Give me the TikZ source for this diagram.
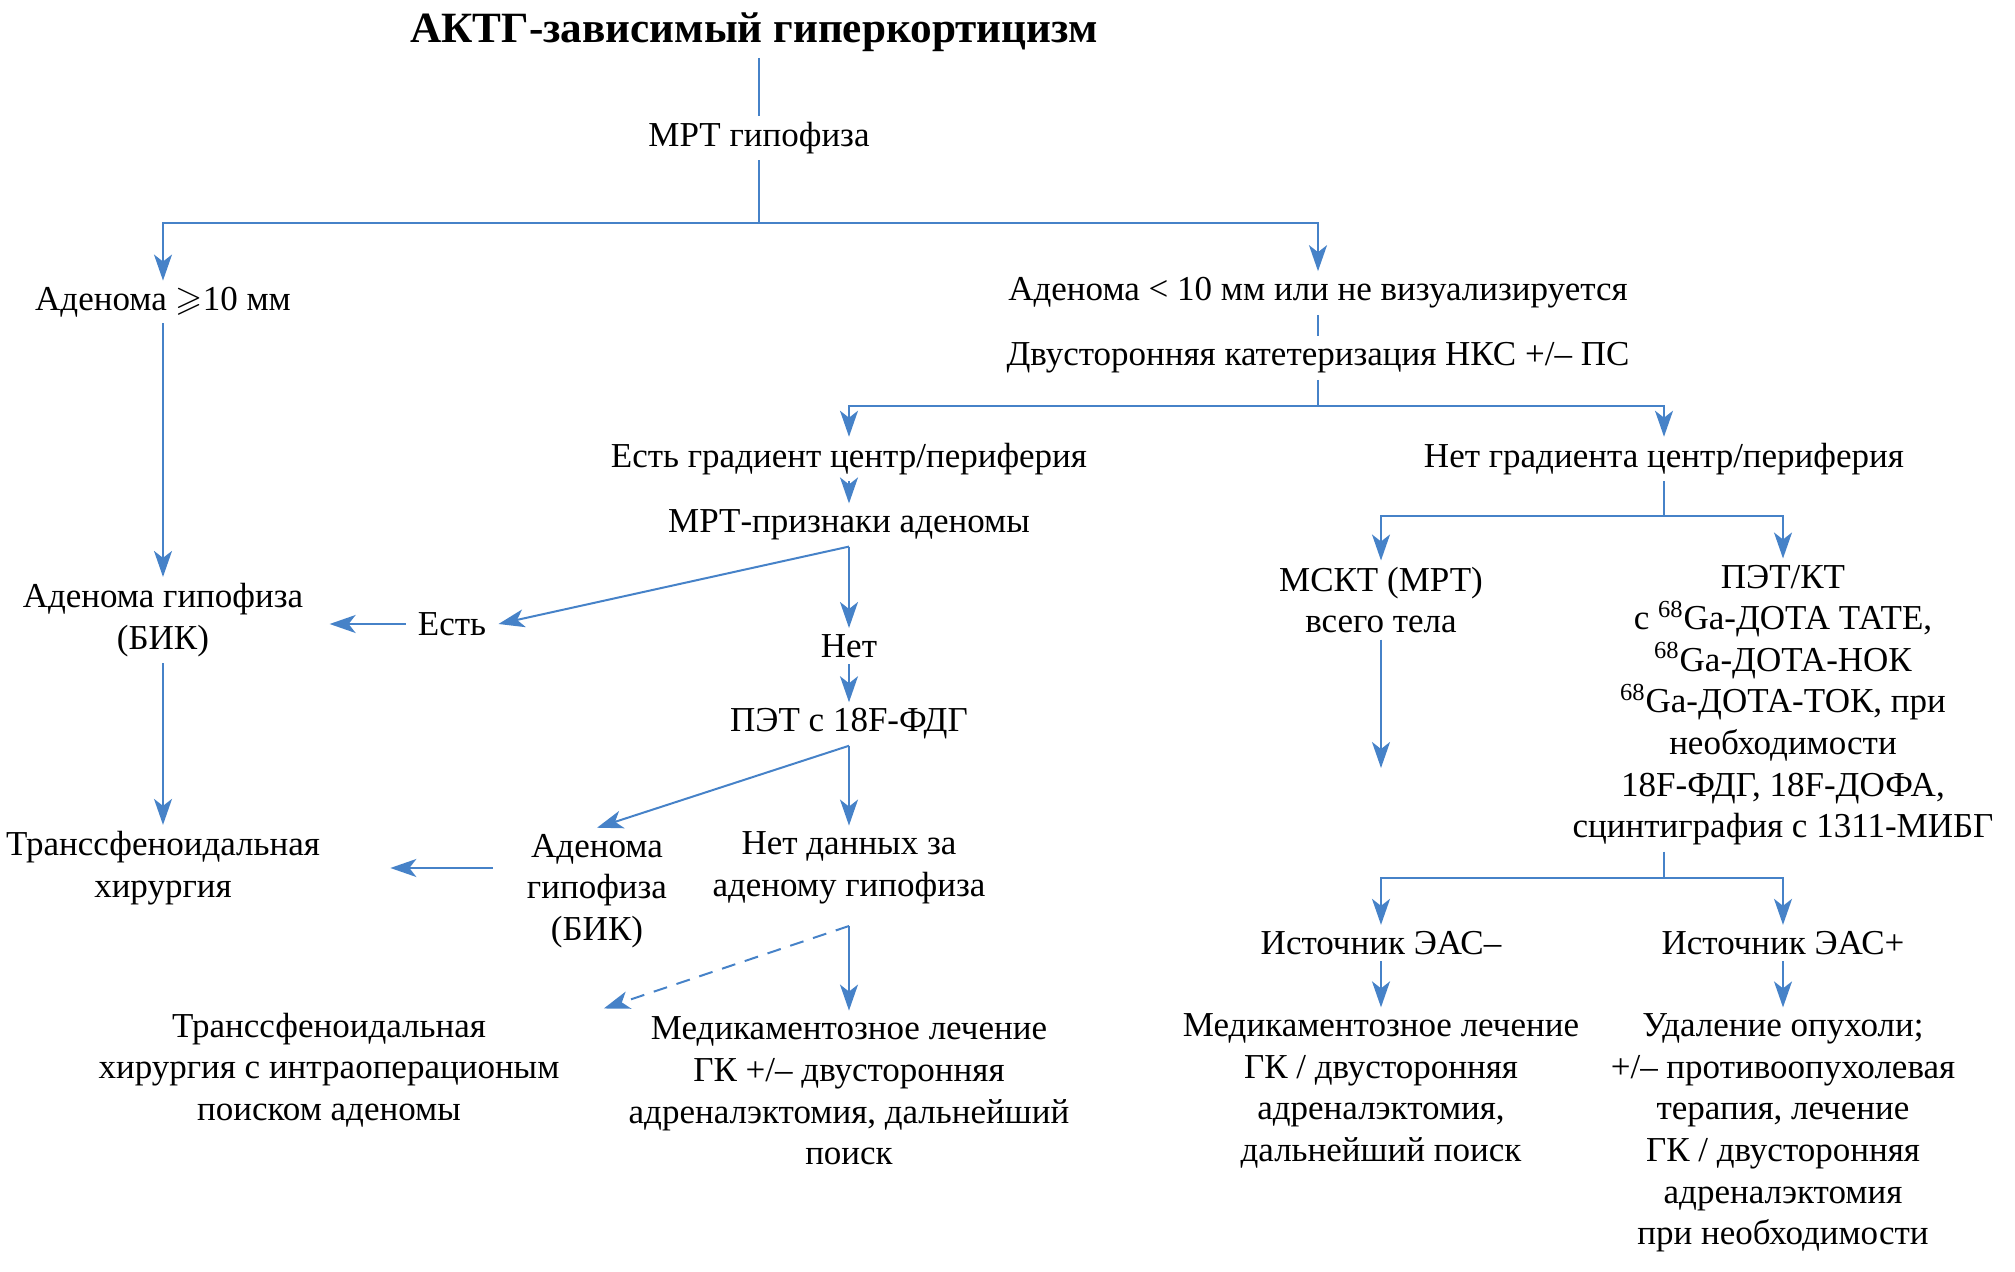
\documentclass[tikz,border=0pt]{standalone}
\usepackage{fontspec}
\setmainfont{Liberation Serif}
\usepackage{amssymb}
\usetikzlibrary{arrows.meta}
\definecolor{flowblue}{RGB}{70,130,200}

\tikzset{
  txt/.style={align=center, inner xsep=6pt, inner ysep=3pt, font=\fontsize{17.5}{20.8}\selectfont},
  headline/.style={inner sep=3pt, font=\fontsize{21.6}{26}\selectfont\bfseries},
  ln/.style={draw=flowblue, line width=1pt},
  arr/.style={ln, -{Stealth[length=13pt,width=9pt,inset=3.5pt]}},
}

\begin{document}
\begin{tikzpicture}[x=0.5pt, y=-0.5pt]
\useasboundingbox (0,0) rectangle (2015,1272);

\node[headline] (head) at (754,32) {АКТГ-зависимый гиперкортицизм};
\node[txt] (mri) at (759,138) {МРТ гипофиза};
\node[txt] (big) at (163,302) {Аденома $\geqslant$10 мм};
\node[txt] (small) at (1318,293) {Аденома < 10 мм или не визуализируется};
\node[txt] (cath) at (1318,358) {Двусторонняя катетеризация НКС +/– ПС};

% left and middle branches
\node[txt] (grad) at (849,459) {Есть градиент центр/периферия};
\node[txt] (sign) at (849,525) {МРТ-признаки аденомы};
\node[txt] (yes) at (452,624) {Есть};
\node[txt] (no) at (849,646) {Нет};
\node[txt] (pet) at (849,724) {ПЭТ с 18F-ФДГ};
\node[txt] (adenB) at (163,620) {Аденома гипофиза\\(БИК)};
\node[txt] (trans) at (163,868) {Транссфеноидальная\\хирургия};
\node[txt] (adenC) at (597,891) {Аденома\\гипофиза\\(БИК)};
\node[txt] (nodata) at (849,868) {Нет данных за\\аденому гипофиза};
\node[txt] (trans2) at (329,1070) {Транссфеноидальная\\хирургия с интраоперационым\\поиском аденомы};
\node[txt] (med1) at (849,1091) {Медикаментозное лечение\\ГК +/– двусторонняя\\адреналэктомия, дальнейший\\поиск};

% right branch
\node[txt] (nograd) at (1664,459) {Нет градиента центр/периферия};
\node[txt] (msct) at (1381,600) {МСКТ (МРТ)\\всего тела};
\node[txt] (petct) at (1783,705) {ПЭТ/КТ\\с \textsuperscript{68}Ga-ДОТА ТАТЕ,\\\textsuperscript{68}Ga-ДОТА-НОК\\\textsuperscript{68}Ga-ДОТА-ТОК, при\\необходимости\\18F-ФДГ, 18F-ДОФА,\\сцинтиграфия с 1311-МИБГ};
\node[txt] (easm) at (1381,943) {Источник ЭАС–};
\node[txt] (easp) at (1783,943) {Источник ЭАС+};
\node[txt] (med2) at (1381,1091) {Медикаментозное лечение\\ГК / двусторонняя\\адреналэктомия,\\дальнейший поиск};
\node[txt] (rem) at (1783,1133) {Удаление опухоли;\\+/– противоопухолевая\\терапия, лечение\\ГК / двусторонняя\\адреналэктомия\\при необходимости};

\coordinate (j1) at (759,223);
\coordinate (j2) at (1318,406);
\coordinate (j3) at (849,926);
\coordinate (j4) at (1664,516);
\coordinate (j5) at (1664,878);
\coordinate (mend) at (1381,768);

\draw[ln] (head.south -| mri) -- (mri);
\draw[ln] (mri) -- (j1);
\draw[arr] (j1) -| (big);
\draw[arr] (j1) -| (small);
\draw[ln] (small) -- (cath);
\draw[ln] (cath) -- (j2);
\draw[arr] (j2) -| (grad);
\draw[arr] (j2) -| (nograd);

\draw[arr] (grad) -- (sign);
\draw[arr] (sign.south) -- (yes.east);
\draw[arr] (sign) -- (no);
\draw[arr, shorten >=7pt] (yes.west) -- (yes.west -| adenB.east);
\draw[arr] (big) -- (adenB);
\draw[arr] (adenB) -- (trans);
\draw[arr] (no) -- (pet);
\draw[arr] (pet.south) -- (adenC.north);
\draw[arr] (pet) -- (nodata);
\draw[arr, shorten <=11pt, shorten >=29pt] (adenC.west |- trans) -- (trans);
\draw[arr, dash pattern=on 7pt off 5pt] (j3) -- ([xshift=16pt, yshift=-1pt]trans2.north east);
\draw[arr] (j3) -- (med1);

\draw[ln] (nograd) -- (j4);
\draw[arr] (j4) -| (msct);
\draw[arr] (j4) -| (petct);
\draw[arr] (msct) -- (mend);
\draw[ln] (petct.south -| j5) -- (j5);
\draw[arr] (j5) -| (easm);
\draw[arr] (j5) -| (easp);
\draw[arr] (easm) -- (med2);
\draw[arr] (easp) -- (rem);
\end{tikzpicture}
\end{document}
